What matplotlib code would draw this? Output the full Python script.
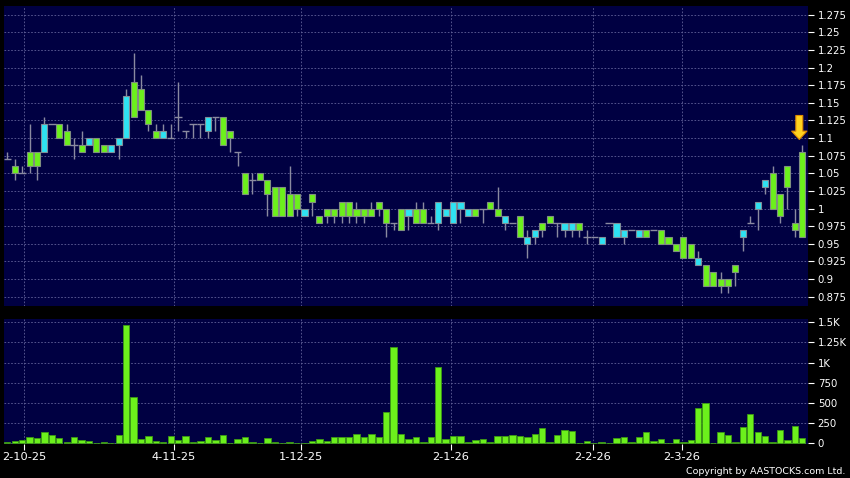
import matplotlib
matplotlib.use('Agg')
import matplotlib.pyplot as plt
import numpy as np

# daily OHLC (index 0 = first candle)
opens = np.array([
    1.07, 1.06, 1.05, 1.08, 1.08, 1.08, 1.12, 1.12, 1.11, 1.09,
    1.09, 1.09, 1.10, 1.09, 1.08, 1.09, 1.10, 1.18, 1.17, 1.14,
    1.11, 1.10, 1.10, 1.13, 1.11, 1.12, 1.12, 1.11, 1.13, 1.13,
    1.11, 1.08, 1.05, 1.04, 1.05, 1.04, 1.03, 1.03, 1.02, 1.02,
    0.99, 1.02, 0.99, 1.00, 1.00, 1.01, 1.01, 1.00, 1.00, 1.00,
    1.01, 1.00, 0.98, 1.00, 0.99, 1.00, 1.00, 0.98, 0.98, 0.99,
    0.98, 1.00, 0.99, 1.00, 1.00, 1.01, 1.00, 0.98, 0.98, 0.99,
    0.95, 0.96, 0.98, 0.99, 0.98, 0.97, 0.97, 0.98, 0.96, 0.96,
    0.95, 0.98, 0.96, 0.96, 0.97, 0.96, 0.97, 0.97, 0.97, 0.96,
    0.95, 0.96, 0.95, 0.92, 0.92, 0.91, 0.90, 0.90, 0.92, 0.96,
    0.98, 1.00, 1.03, 1.05, 1.02, 1.06, 0.98, 1.08])
highs = np.array([
    1.08, 1.07, 1.06, 1.12, 1.08, 1.13, 1.12, 1.12, 1.12, 1.10,
    1.11, 1.10, 1.10, 1.09, 1.09, 1.10, 1.17, 1.22, 1.19, 1.14,
    1.12, 1.12, 1.12, 1.18, 1.11, 1.12, 1.12, 1.13, 1.13, 1.13,
    1.11, 1.08, 1.05, 1.05, 1.05, 1.04, 1.03, 1.03, 1.06, 1.02,
    1.00, 1.02, 0.99, 1.00, 1.00, 1.01, 1.01, 1.01, 1.00, 1.01,
    1.01, 1.00, 0.98, 1.00, 1.00, 1.01, 1.01, 0.99, 1.01, 1.00,
    1.01, 1.01, 1.00, 1.00, 1.00, 1.01, 1.03, 0.99, 0.98, 0.99,
    0.97, 0.97, 0.98, 0.99, 0.98, 0.98, 0.98, 0.98, 0.97, 0.96,
    0.96, 0.98, 0.98, 0.97, 0.97, 0.97, 0.97, 0.97, 0.97, 0.96,
    0.95, 0.96, 0.95, 0.94, 0.92, 0.91, 0.91, 0.90, 0.92, 0.97,
    0.99, 1.01, 1.04, 1.06, 1.02, 1.06, 1.00, 1.09])
lows = np.array([
    1.07, 1.04, 1.05, 1.05, 1.04, 1.08, 1.12, 1.10, 1.09, 1.07,
    1.08, 1.09, 1.08, 1.08, 1.08, 1.07, 1.10, 1.13, 1.14, 1.11,
    1.10, 1.10, 1.10, 1.11, 1.10, 1.10, 1.10, 1.10, 1.11, 1.09,
    1.08, 1.06, 1.02, 1.02, 1.04, 0.99, 0.99, 0.99, 0.99, 0.99,
    0.99, 0.99, 0.98, 0.98, 0.98, 0.98, 0.98, 0.98, 0.98, 0.99,
    0.99, 0.96, 0.97, 0.97, 0.97, 0.98, 0.98, 0.98, 0.97, 0.99,
    0.98, 0.98, 0.99, 0.99, 0.98, 1.00, 0.99, 0.97, 0.98, 0.96,
    0.93, 0.95, 0.96, 0.98, 0.96, 0.96, 0.96, 0.96, 0.95, 0.96,
    0.95, 0.98, 0.96, 0.95, 0.97, 0.96, 0.96, 0.97, 0.95, 0.95,
    0.94, 0.93, 0.93, 0.92, 0.89, 0.89, 0.88, 0.88, 0.89, 0.94,
    0.98, 0.97, 1.02, 1.00, 0.98, 1.00, 0.96, 0.96])
closes = np.array([
    1.07, 1.05, 1.05, 1.06, 1.06, 1.12, 1.12, 1.10, 1.09, 1.09,
    1.08, 1.10, 1.08, 1.08, 1.09, 1.10, 1.16, 1.13, 1.14, 1.12,
    1.10, 1.11, 1.10, 1.13, 1.11, 1.12, 1.12, 1.13, 1.13, 1.09,
    1.10, 1.08, 1.02, 1.04, 1.04, 1.02, 0.99, 0.99, 0.99, 1.00,
    1.00, 1.01, 0.98, 0.99, 0.99, 0.99, 0.99, 0.99, 0.99, 0.99,
    1.00, 0.98, 0.98, 0.97, 1.00, 0.98, 0.98, 0.98, 1.01, 1.00,
    1.01, 1.01, 1.00, 0.99, 1.00, 1.00, 0.99, 0.99, 0.98, 0.96,
    0.96, 0.97, 0.97, 0.98, 0.98, 0.98, 0.98, 0.97, 0.96, 0.96,
    0.96, 0.98, 0.98, 0.97, 0.97, 0.97, 0.96, 0.97, 0.95, 0.95,
    0.94, 0.93, 0.93, 0.93, 0.89, 0.89, 0.89, 0.89, 0.91, 0.97,
    0.98, 1.01, 1.04, 1.00, 0.99, 1.03, 0.97, 0.96])
volumes = np.array([
    12, 33, 45, 74, 70, 140, 103, 62, 17, 83,
    41, 25, 0, 12, 5, 103, 1466, 574, 50, 91,
    29, 21, 91, 37, 91, 17, 29, 78, 41, 103,
    0, 54, 83, 12, 0, 62, 12, 0, 12, 0,
    0, 29, 50, 33, 83, 83, 83, 116, 83, 116,
    74, 392, 1198, 116, 50, 83, 21, 83, 942, 54,
    91, 91, 17, 41, 50, 17, 87, 87, 99, 95,
    83, 112, 190, 12, 103, 165, 153, 0, 25, 0,
    12, 0, 62, 78, 17, 78, 140, 33, 54, 0,
    50, 17, 45, 442, 496, 0, 136, 103, 12, 202,
    359, 136, 91, 12, 169, 37, 215, 62])

date_labels = ['2-10-25', '4-11-25', '1-12-25', '2-1-26', '2-2-26', '2-3-26']
date_pos = [2.3, 22.4, 39.5, 59.7, 78.8, 90.8]
price_ticks = np.arange(0.875, 1.2751, 0.025)
vol_ticks = [0, 250, 500, 750, 1000, 1250, 1500]
vol_labels = ['0', '250', '500', '750', '1K', '1.25K', '1.5K']

BG = '#000042'
GREEN = '#6cf01c'
CYAN = '#2ee2f2'
GREY = '#8a8aa0'
GRID = '#62629a'

fig = plt.figure(figsize=(8.5, 4.78), dpi=100, facecolor='black')
ax = fig.add_axes([4 / 850, 1 - 306 / 478, 804 / 850, 300 / 478])
axv = fig.add_axes([4 / 850, 1 - 444 / 478, 804 / 850, 125 / 478])

x = np.arange(len(closes))
up = closes > opens + 1e-9
down = closes < opens - 1e-9
flat = ~(up | down)

for a in (ax, axv):
    a.set_facecolor(BG)
    for s in a.spines.values():
        s.set_visible(False)
    a.set_xlim(-0.44, 107.77)
    a.yaxis.tick_right()
    a.tick_params(axis='y', colors='white', labelsize=7.3, length=4, pad=3, width=0.8)
    a.grid(axis='y', color=GRID, linestyle=(0, (2, 2)), lw=0.6)
    for p in date_pos:
        a.axvline(p, color=GRID, linestyle=(0, (2, 2)), lw=0.6, zorder=0.5)
    a.set_axisbelow(True)

# candles
ax.vlines(x, lows, highs, color=GREY, lw=1, zorder=2)
ax.bar(x[up], closes[up] - opens[up], bottom=opens[up], width=0.82,
       color=CYAN, edgecolor='#7f8f99', lw=0.8, zorder=3)
ax.bar(x[down], opens[down] - closes[down], bottom=closes[down], width=0.82,
       color=GREEN, edgecolor='#7f8f80', lw=0.8, zorder=3)
ax.hlines(opens[flat], x[flat] - 0.5, x[flat] + 0.5, color=GREY, lw=1, zorder=3)

ax.set_ylim(0.8618, 1.2873)
ax.set_yticks(price_ticks)
ax.set_yticklabels(['%g' % round(t, 3) for t in price_ticks])
ax.set_xticks([])

# marker arrow over the last session
ax.annotate('', xy=(106.6, 1.098), xytext=(106.6, 1.132),
            arrowprops=dict(arrowstyle='simple,head_length=0.6,head_width=1.1,tail_width=0.5',
                            mutation_scale=10, fc='#ffd21f', ec='#e08a00', lw=0.8,
                            shrinkA=0, shrinkB=0), zorder=5)

# volume
axv.bar(x, volumes, width=0.86, color=GREEN, edgecolor='#3c9a14', lw=0.6, zorder=3)
axv.set_ylim(-9, 1541)
axv.set_yticks(vol_ticks)
axv.set_yticklabels(vol_labels)
axv.set_xticks(date_pos)
axv.set_xticklabels(date_labels)
axv.tick_params(axis='x', colors='white', labelsize=8.2, length=4, pad=2, width=0.8)

fig.text(845.7 / 850, 1 - 471.7 / 478, 'Copyright by AASTOCKS.com Ltd.',
         color='white', fontsize=6.8, ha='right', va='center')

fig.savefig('out.png', dpi=100, facecolor='black')
